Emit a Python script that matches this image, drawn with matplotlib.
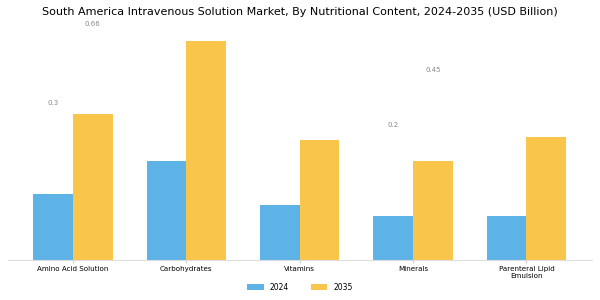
import matplotlib.pyplot as plt
import numpy as np

categories = ["Amino Acid Solution", "Carbohydrates", "Vitamins", "Minerals",
              "Parenteral Lipid\nEmulsion"]
values_2024 = [0.30, 0.45, 0.25, 0.20, 0.20]
values_2035 = [0.66, 0.99, 0.545, 0.45, 0.555]
# labels shown only for some bars in the original
label_idx = [0, 3]

blue = "#5DB3E6"
yellow = "#F9C54B"

fig = plt.figure(figsize=(6, 3), dpi=100)
ax = fig.add_axes([0.013, 0.133, 0.974, 0.77])

x = np.arange(len(categories))
w = 0.35
ax.bar(x - w / 2, values_2024, w, color=blue, label="2024")
ax.bar(x + w / 2, values_2035, w, color=yellow, label="2035")

for i in label_idx:
    ax.text(x[i] - w / 2, values_2024[i] + 0.41, f"{values_2024[i]:g}",
            ha="center", va="center", fontsize=5, color="#888888", clip_on=False)
    ax.text(x[i] + w / 2, values_2035[i] + 0.41, f"{values_2035[i]:g}",
            ha="center", va="center", fontsize=5, color="#888888", clip_on=False)

ax.set_xlim(-0.575, 4.58)
ax.set_ylim(0, 1.045)
ax.set_xticks(x)
ax.set_xticklabels(categories, fontsize=5.1, linespacing=1.3)
ax.set_yticks([])
for s in ["top", "right", "left"]:
    ax.spines[s].set_visible(False)
ax.spines["bottom"].set_color("#dddddd")
ax.tick_params(axis="x", length=2.5, color="#cccccc", pad=1.5)

fig.text(0.5, 0.96, "South America Intravenous Solution Market, By Nutritional Content, 2024-2035 (USD Billion)",
         ha="center", va="center", fontsize=8)
fig.legend(loc="center", bbox_to_anchor=(0.5, 0.042), ncol=2, frameon=False,
           fontsize=5.5, handlelength=2.2, handleheight=0.8, columnspacing=2.8)

fig.savefig("out.png", dpi=100)
